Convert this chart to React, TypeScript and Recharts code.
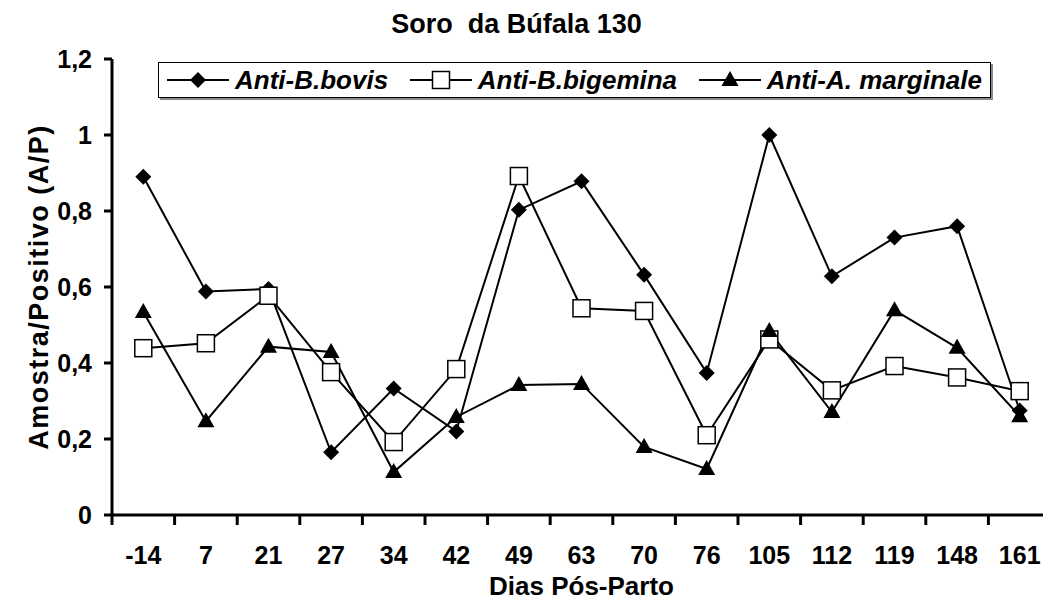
import { CartesianGrid, Legend, Line, LineChart, XAxis, YAxis } from "recharts"

if (typeof document !== "undefined") document.body.style.margin = "0"

// dias pós-parto (categorias do eixo X)
const days = ["-14", "7", "21", "27", "34", "42", "49", "63", "70", "76", "105", "112", "119", "148", "161"]

// Amostra/Positivo (A/P)
const bovis = [0.89, 0.588, 0.595, 0.165, 0.333, 0.22, 0.803, 0.878, 0.632, 0.374, 1.0, 0.628, 0.73, 0.76, 0.275]
const bigemina = [0.439, 0.452, 0.577, 0.376, 0.192, 0.384, 0.892, 0.544, 0.537, 0.21, 0.462, 0.328, 0.392, 0.362, 0.326]
const marginale = [0.534, 0.247, 0.443, 0.429, 0.113, 0.258, 0.342, 0.345, 0.179, 0.121, 0.484, 0.271, 0.539, 0.44, 0.26]

const yTicks = [0, 0.2, 0.4, 0.6, 0.8, 1, 1.2]

type MarkerKind = "diamond" | "square" | "triangle"

const SERIES: { key: string; label: string; marker: MarkerKind }[] = [
  { key: "bovis", label: "Anti-B.bovis", marker: "diamond" },
  { key: "bigemina", label: "Anti-B.bigemina", marker: "square" },
  { key: "marginale", label: "Anti-A. marginale", marker: "triangle" },
]

const data = days.map((d, i) => ({
  day: d,
  bovis: bovis[i],
  bigemina: bigemina[i],
  marginale: marginale[i],
}))

const CHART_W = 1060
const CHART_H = 605
const Y_AXIS_W = 112
const MARGIN = { top: 59, right: 9, bottom: 0, left: 0 }
const BAND = (CHART_W - MARGIN.right - MARGIN.left - Y_AXIS_W) / days.length
const FONT = "'Liberation Sans', Arial, Helvetica, sans-serif"

function Marker({ kind, cx, cy }: { kind: MarkerKind; cx: number; cy: number }) {
  if (kind === "diamond") {
    const r = 8
    return <path d={`M${cx},${cy - r}L${cx + r},${cy}L${cx},${cy + r}L${cx - r},${cy}Z`} fill="#000" />
  }
  if (kind === "square") {
    const s = 17
    return <rect x={cx - s / 2} y={cy - s / 2} width={s} height={s} fill="#fff" stroke="#000" strokeWidth={1.5} />
  }
  const w = 17
  const h = 15
  return <path d={`M${cx},${cy - h * 0.6}L${cx + w / 2},${cy + h * 0.4}L${cx - w / 2},${cy + h * 0.4}Z`} fill="#000" />
}

function DayTick(props: any) {
  const { x, y, payload, index } = props
  return (
    <g>
      <line x1={x - BAND / 2} x2={x - BAND / 2} y1={y} y2={y + 10} stroke="#000" strokeWidth={3} />
      {index === days.length - 1 && (
        <line x1={x + BAND / 2} x2={x + BAND / 2} y1={y} y2={y + 10} stroke="#000" strokeWidth={3} />
      )}
      <text x={x} y={y + 49} textAnchor="middle" fontSize={25} fontWeight="bold" fill="#000">
        {payload.value}
      </text>
    </g>
  )
}

function LegendBox() {
  return (
    <div
      style={{
        display: "flex",
        alignItems: "center",
        justifyContent: "space-between",
        height: 36,
        boxSizing: "border-box",
        padding: "0 8px",
        border: "1px solid #000",
        boxShadow: "2px 2px 0 #8a8a8a",
        background: "#fff",
        fontFamily: FONT,
      }}
    >
      {SERIES.map((s) => (
        <div key={s.key} style={{ display: "flex", alignItems: "center" }}>
          <svg width={62} height={22}>
            <line x1={0} x2={62} y1={11} y2={11} stroke="#000" strokeWidth={2} />
            <Marker kind={s.marker} cx={31} cy={11} />
          </svg>
          <span style={{ marginLeft: 6, fontSize: 26, fontWeight: "bold", fontStyle: "italic", color: "#000", lineHeight: 1 }}>
            {s.label}
          </span>
        </div>
      ))}
    </div>
  )
}

export default function App() {
  return (
    <div style={{ position: "relative", width: 1043, height: 605, overflow: "hidden", background: "#fff", fontFamily: FONT }}>
      <div
        style={{
          position: "absolute",
          left: 0,
          width: 1033,
          top: 11,
          textAlign: "center",
          fontSize: 27,
          fontWeight: "bold",
          whiteSpace: "pre",
          color: "#000",
          lineHeight: 1,
          zIndex: 2,
        }}
      >
        Soro  da Búfala 130
      </div>
      <LineChart width={CHART_W} height={CHART_H} data={data} margin={MARGIN}>
        <CartesianGrid stroke="none" />
        <XAxis
          dataKey="day"
          scale="band"
          height={90}
          tickLine={false}
          tickSize={0}
          tickMargin={0}
          axisLine={{ stroke: "#000", strokeWidth: 3 }}
          tick={<DayTick />}
          interval={0}
          label={{
            value: "Dias Pós-Parto",
            position: "insideBottom",
            offset: 10,
            style: { fontSize: 26, fontWeight: "bold", fill: "#000", textAnchor: "middle" },
          }}
        />
        <YAxis
          width={Y_AXIS_W}
          domain={[0, 1.2]}
          ticks={yTicks}
          interval={0}
          tickFormatter={(v: number) => String(v).replace(".", ",")}
          tickSize={8}
          tickMargin={12}
          tickLine={{ stroke: "#000", strokeWidth: 3 }}
          axisLine={{ stroke: "#000", strokeWidth: 3 }}
          tick={{ fontSize: 25, fontWeight: "bold", fill: "#000" }}
          label={{
            value: "Amostra/Positivo (A/P)",
            angle: -90,
            position: "insideLeft",
            offset: 38,
            style: { fontSize: 27, fontWeight: "bold", fill: "#000", textAnchor: "middle", letterSpacing: 1.5 },
          }}
        />
        <Legend
          layout="vertical"
          align="center"
          verticalAlign="middle"
          wrapperStyle={{ left: 158, top: 62, width: 833 }}
          content={() => <LegendBox />}
        />
        {SERIES.map((s) => (
          <Line
            key={s.key}
            dataKey={s.key}
            name={s.label}
            type="linear"
            stroke="#000"
            strokeWidth={2}
            isAnimationActive={false}
            dot={(p: any) => <Marker key={`${s.key}-${p.index}`} kind={s.marker} cx={p.cx} cy={p.cy} />}
            activeDot={false}
          />
        ))}
      </LineChart>
    </div>
  )
}
